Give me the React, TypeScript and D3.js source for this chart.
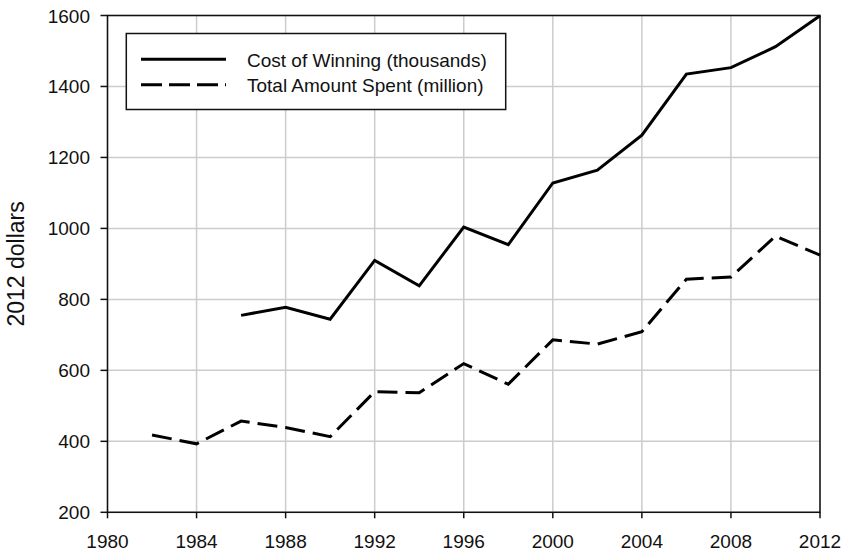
import React from "react";
import * as d3 from "d3";

const costYears = [1986, 1988, 1990, 1992, 1994, 1996, 1998, 2000, 2002, 2004, 2006, 2008, 2010, 2012];
const costValues = [755, 778, 744, 910, 838, 1004, 954, 1128, 1164, 1263, 1435, 1453, 1512, 1599];
const spentYears = [1982, 1984, 1986, 1988, 1990, 1992, 1994, 1996, 1998, 2000, 2002, 2004, 2006, 2008, 2010, 2012];
const spentValues = [418, 393, 457, 439, 413, 540, 537, 619, 561, 686, 674, 709, 857, 863, 978, 925];
const xTicks = [1980, 1984, 1988, 1992, 1996, 2000, 2004, 2008, 2012];
const yTicks = [200, 400, 600, 800, 1000, 1200, 1400, 1600];
const legendLabels = ["Cost of Winning (thousands)", "Total Amount Spent (million)"];
const yLabel = "2012 dollars";

const W = 843, H = 550;
const L = 107.5, R = 820, T = 15.5, B = 512.3;
const FONT = "'Liberation Sans', Arial, sans-serif";

export default function App() {
  const x = d3.scaleLinear().domain([1980, 2012]).range([L, R]);
  const y = d3.scaleLinear().domain([200, 1600]).range([B, T]);
  const line = d3.line<[number, number]>().x(d => x(d[0])).y(d => y(d[1]));
  const costPath = line(costYears.map((yr, i) => [yr, costValues[i]]) as [number, number][]) || "";
  const spentPath = line(spentYears.map((yr, i) => [yr, spentValues[i]]) as [number, number][]) || "";

  return (
    <svg width={W} height={H} style={{ position: "absolute", left: 0, top: 0, background: "#fff" }} fontFamily={FONT}>
      <rect x={0} y={0} width={W} height={H} fill="#fff" />
      {xTicks.map(t => (
        <line key={"gx" + t} x1={x(t)} x2={x(t)} y1={T} y2={B} stroke="#cccccc" strokeWidth={1.5} />
      ))}
      {yTicks.map(t => (
        <line key={"gy" + t} x1={L} x2={R} y1={y(t)} y2={y(t)} stroke="#cccccc" strokeWidth={1.5} />
      ))}
      <rect x={L} y={T} width={R - L} height={B - T} fill="none" stroke="#111" strokeWidth={1.5} />
      {xTicks.map(t => (
        <g key={"tx" + t}>
          <line x1={x(t)} x2={x(t)} y1={B} y2={B + 6} stroke="#111" strokeWidth={1.5} />
          <text x={x(t)} y={547.5} textAnchor="middle" fontSize={19} fill="#111">{t}</text>
        </g>
      ))}
      {yTicks.map(t => (
        <g key={"ty" + t}>
          <line x1={L - 7} x2={L} y1={y(t)} y2={y(t)} stroke="#111" strokeWidth={1.5} />
          <text x={90} y={y(t) + 7} textAnchor="end" fontSize={19} fill="#111">{t}</text>
        </g>
      ))}
      <text transform={`translate(24, ${(T + B) / 2}) rotate(-90)`} textAnchor="middle" fontSize={23} fill="#111">{yLabel}</text>
      <path d={costPath} fill="none" stroke="#000" strokeWidth={3} strokeLinejoin="miter" />
      <path d={spentPath} fill="none" stroke="#000" strokeWidth={3} strokeDasharray="20,8" />
      <rect x={126.3} y={33.5} width={379.4} height={76} fill="#fff" stroke="#111" strokeWidth={1.5} />
      <line x1={141} x2={226} y1={59.3} y2={59.3} stroke="#000" strokeWidth={3} />
      <line x1={141} x2={226} y1={84.7} y2={84.7} stroke="#000" strokeWidth={3} strokeDasharray="21,7" />
      <text x={247} y={66.5} fontSize={19} fill="#111">{legendLabels[0]}</text>
      <text x={247} y={92} fontSize={19} fill="#111">{legendLabels[1]}</text>
    </svg>
  );
}
